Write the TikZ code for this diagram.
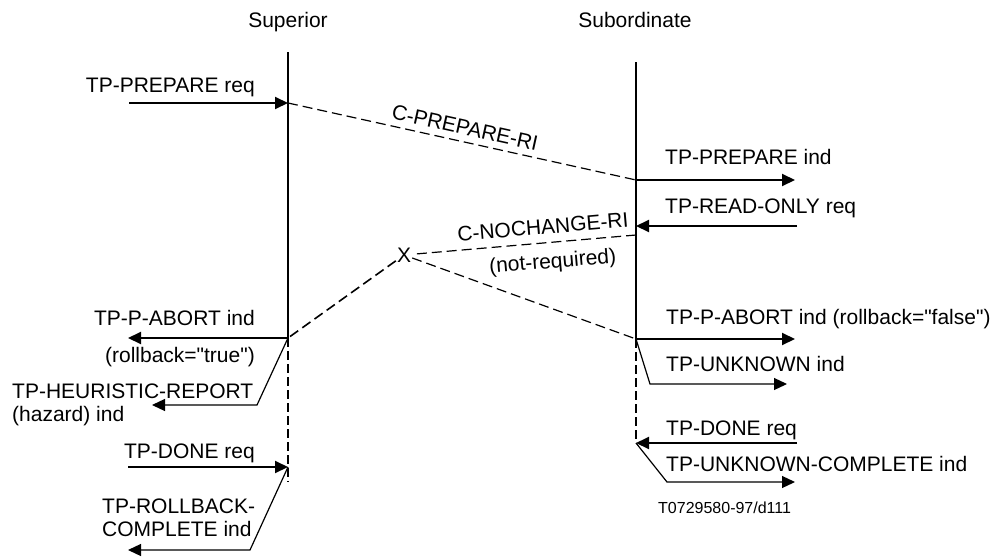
\documentclass[tikz,border=0pt]{standalone}
\usepackage{fontspec}
\setmainfont{Liberation Sans}[Ligatures=TeXOff]
\usetikzlibrary{arrows.meta,positioning,calc}

\begin{document}
\begin{tikzpicture}[
  x=1pt, y=-1pt,
  every node/.style={font=\fontsize{21}{23}\selectfont, inner sep=0pt},
  lifeline/.style={line width=2pt},
  lifedash/.style={line width=2pt, dash pattern=on 9pt off 4pt},
  prim/.style={-{Triangle[length=13pt,width=12pt]}, line width=2pt},
  bent/.style={-{Triangle[length=13pt,width=12pt]}, line width=1.2pt},
  msg/.style={line width=1.2pt, dash pattern=on 10pt off 5pt},
  lblw/.style={anchor=base west, align=left},
  lble/.style={anchor=base east, align=right}
]
\useasboundingbox (0,0) rectangle (996,557);

\node[anchor=base] (lSup) at (288,27) {Superior};
\node[anchor=base] (lSub) at (635,27) {Subordinate};

\coordinate (supTop) at (288,52);
\coordinate (supMid) at (288,338);
\coordinate (supEnd) at (288,482);
\coordinate (subTop) at (636,62);
\coordinate (subMid) at (636,339);
\coordinate (subEnd) at (636,443);

\draw[lifeline] (supTop) -- (supMid);
\draw[lifedash] (supMid) -- (supEnd);
\draw[lifeline] (subTop) -- (subMid);
\draw[lifedash] (subMid) -- (subEnd);

\coordinate (supPrep) at (288,103);
\coordinate (supDone) at (288,467);
\coordinate (subPrep) at (636,180);
\coordinate (subRO) at (636,226);
\coordinate (subNoch) at (636,235);
\coordinate (subDone) at (636,443);

\coordinate (prepReqIn) at (129,103);
\coordinate (prepIndOut) at (795,180);
\coordinate (roIn) at (797,226);
\coordinate (abortOut) at (128,338);
\coordinate (heurBend) at (257,405);
\coordinate (heurOut) at (152,405);
\coordinate (doneIn) at (128,467);
\coordinate (rbBend) at (250,550);
\coordinate (rbOut) at (128,550);
\coordinate (subAbortOut) at (795,339);
\coordinate (unkBend) at (650,384);
\coordinate (unkOut) at (787,384);
\coordinate (subDoneIn) at (797,443);
\coordinate (ucBend) at (667,482);
\coordinate (ucOut) at (795,482);

\node[inner sep=1pt] (cross) at (404,255) {X};

\draw[prim] (prepReqIn) -- (supPrep);
\draw[msg] (supPrep) -- node[above=6pt, sloped, pos=0.5] (lPrepRI) {C-PREPARE-RI} (subPrep);
\draw[prim] (subPrep) -- (prepIndOut);
\draw[prim] (roIn) -- (subRO);
\draw[msg] (subNoch) -- node[above=8pt, sloped, pos=0.41] (lNoch) {C-NOCHANGE-RI}
  node[below=10pt, sloped, pos=0.38] (lNotReq) {(not-required)} (cross);
\draw[msg, line width=1.6pt] (cross) -- (supMid);
\draw[msg] (cross) -- (subMid);

\draw[prim] (supMid) -- (abortOut);
\draw[bent] (supMid) -- (heurBend) -- (heurOut);
\draw[prim] (doneIn) -- (supDone);
\draw[bent] (supDone) -- (rbBend) -- (rbOut);

\draw[prim] (subMid) -- (subAbortOut);
\draw[bent] (subMid) -- (unkBend) -- (unkOut);
\draw[prim] (subDoneIn) -- (subDone);
\draw[bent] (subDone) -- (ucBend) -- (ucOut);

\node[lble] (lPrepReq) at (255,92) {TP-PREPARE req};
\node[lble] (lAbort) at (255,325) {TP-P-ABORT ind};
\node[lble] (lTrue) at (255,362) {(rollback="true")};
\node[lblw] (lHeur) at (12,421) {TP-HEURISTIC-REPORT\\(hazard) ind};
\node[lble] (lDoneReq) at (255,458) {TP-DONE req};
\node[lblw] (lRbComp) at (102,536) {TP-ROLLBACK-\\COMPLETE ind};

\node[lblw] (lPrepInd) at (665,164) {TP-PREPARE ind};
\node[lblw] (lReadOnly) at (665,213) {TP-READ-ONLY req};
\node[lblw] (lFalse) at (666,324) {TP-P-ABORT ind (rollback="false")};
\node[lblw] (lUnk) at (666,371) {TP-UNKNOWN ind};
\node[lblw] (lSubDone) at (666,435) {TP-DONE req};
\node[lblw] (lUnkComp) at (666,471) {TP-UNKNOWN-COMPLETE ind};
\node[lblw, font=\fontsize{16}{18}\selectfont] (lRef) at (658,513) {T0729580-97/d111};
\end{tikzpicture}
\end{document}
